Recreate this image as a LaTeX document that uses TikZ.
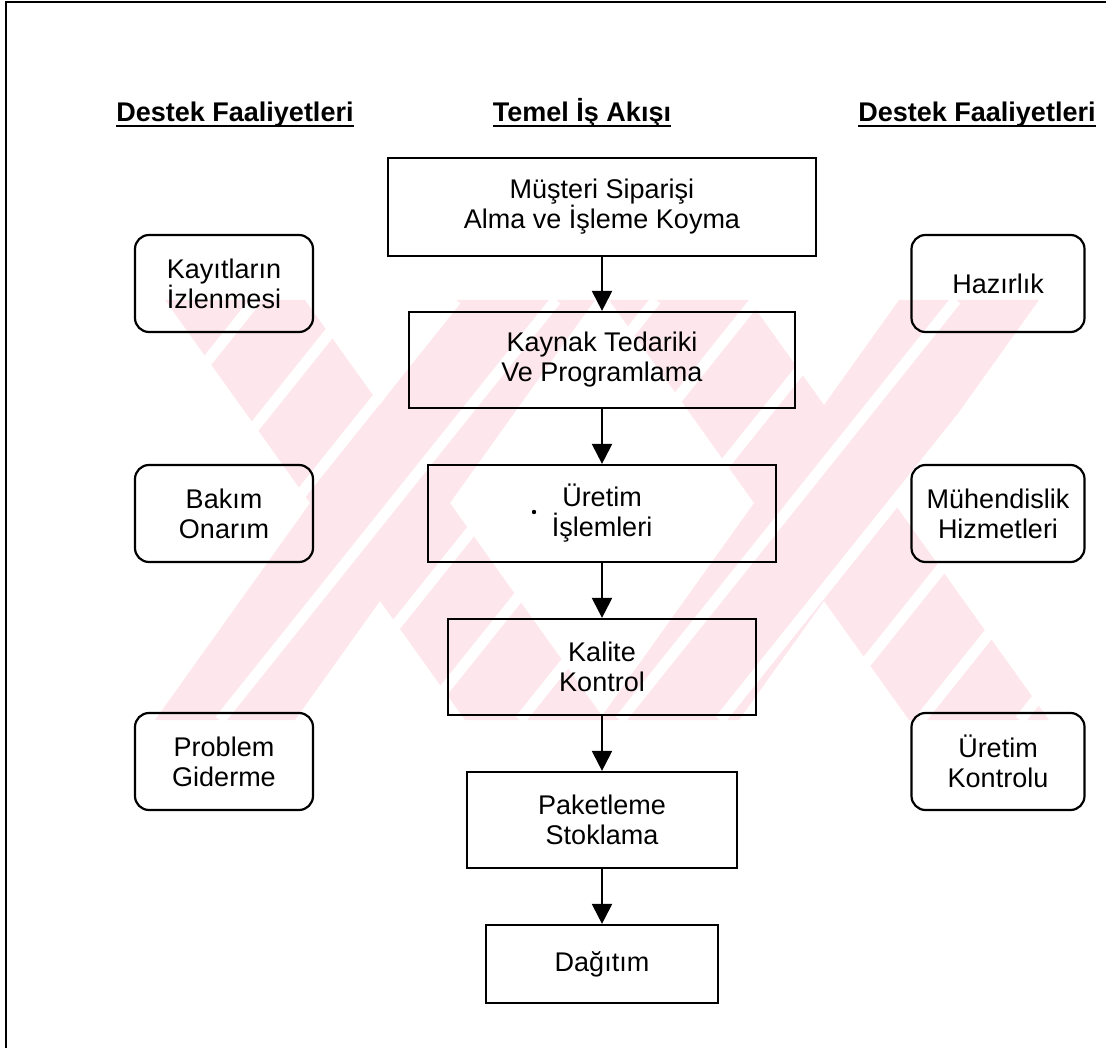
\documentclass[tikz,border=0pt]{standalone}
\usepackage{fontspec}
\setmainfont{Liberation Sans}
\usetikzlibrary{arrows.meta}
\definecolor{wm}{RGB}{253,231,236}
\begin{document}
\begin{tikzpicture}[x=1pt,y=-1pt,
  flow/.style={draw, line width=2.2pt, align=center, inner sep=0pt, font=\fontsize{27}{30}\selectfont},
  side/.style={flow, rounded corners=14pt, minimum width=178pt, minimum height=97pt},
  hdr/.style={inner sep=0pt, anchor=base, font=\bfseries\fontsize{27}{30}\selectfont},
  uline/.style={line width=2pt},
  arr/.style={line width=2.2pt, -{Triangle[width=20pt,length=20pt]}}]
\useasboundingbox (0,0) rectangle (1106,1048);
% watermark
\begin{scope}
\clip (150,300) rectangle (1056,720);
\fill[wm] (165,300) -- (305,300) -- (605,720) -- (465,720) -- cycle;
\fill[wm] (455,300) -- (595,300) -- (295,720) -- (155,720) -- cycle;
\fill[wm] (609,300) -- (749,300) -- (1049,720) -- (909,720) -- cycle;
\fill[wm] (899,300) -- (1039,300) -- (739,720) -- (599,720) -- cycle;
\foreach \k in {-380,-280,...,1400}
  \draw[white, line width=11pt] (\k,720) -- (\k+336,300);
\end{scope}
% frame
\draw[line width=2pt] (6,1048) -- (6,2) -- (1106,2);
% headers
\node[hdr] (h1) at (235,122) {Destek Faaliyetleri};
\node[hdr] (h2) at (582,122) {Temel İş Akışı};
\node[hdr] (h3) at (977,122) {Destek Faaliyetleri};
\foreach \h in {h1,h2,h3}
  \draw[uline] ([yshift=-4pt]\h.base west) -- ([yshift=-4pt]\h.base east);
% main flow
\node[flow, minimum width=428pt, minimum height=98pt] (b1) at (602,207) {Müşteri Siparişi\\Alma ve İşleme Koyma};
\node[flow, minimum width=386pt, minimum height=96pt] (b2) at (602,360) {Kaynak Tedariki\\Ve Programlama};
\node[flow, minimum width=348pt, minimum height=97pt] (b3) at (602,513.5) {Üretim\\İşlemleri};
\node[flow, minimum width=308pt, minimum height=96pt] (b4) at (602,667) {Kalite\\Kontrol};
\node[flow, minimum width=270pt, minimum height=96pt] (b5) at (602,820) {Paketleme\\Stoklama};
\node[flow, minimum width=232pt, minimum height=78pt] (b6) at (602,964) {Dağıtım};
\fill (534,512) circle (2.2pt);
\draw[arr] (b1) -- (b2);
\draw[arr] (b2) -- (b3);
\draw[arr] (b3) -- (b4);
\draw[arr] (b4) -- (b5);
\draw[arr] (b5) -- (b6);
% side boxes
\node[side] (l1) at (224,283.5) {Kayıtların\\İzlenmesi};
\node[side] (l2) at (224,513.5) {Bakım\\Onarım};
\node[side] (l3) at (224,761.5) {Problem\\Giderme};
\node[side, minimum width=173pt] (r1) at (998,283.5) {Hazırlık};
\node[side, minimum width=173pt] (r2) at (998,513.5) {Mühendislik\\Hizmetleri};
\node[side, minimum width=173pt] (r3) at (998,761.5) {Üretim\\Kontrolu};
\end{tikzpicture}
\end{document}
